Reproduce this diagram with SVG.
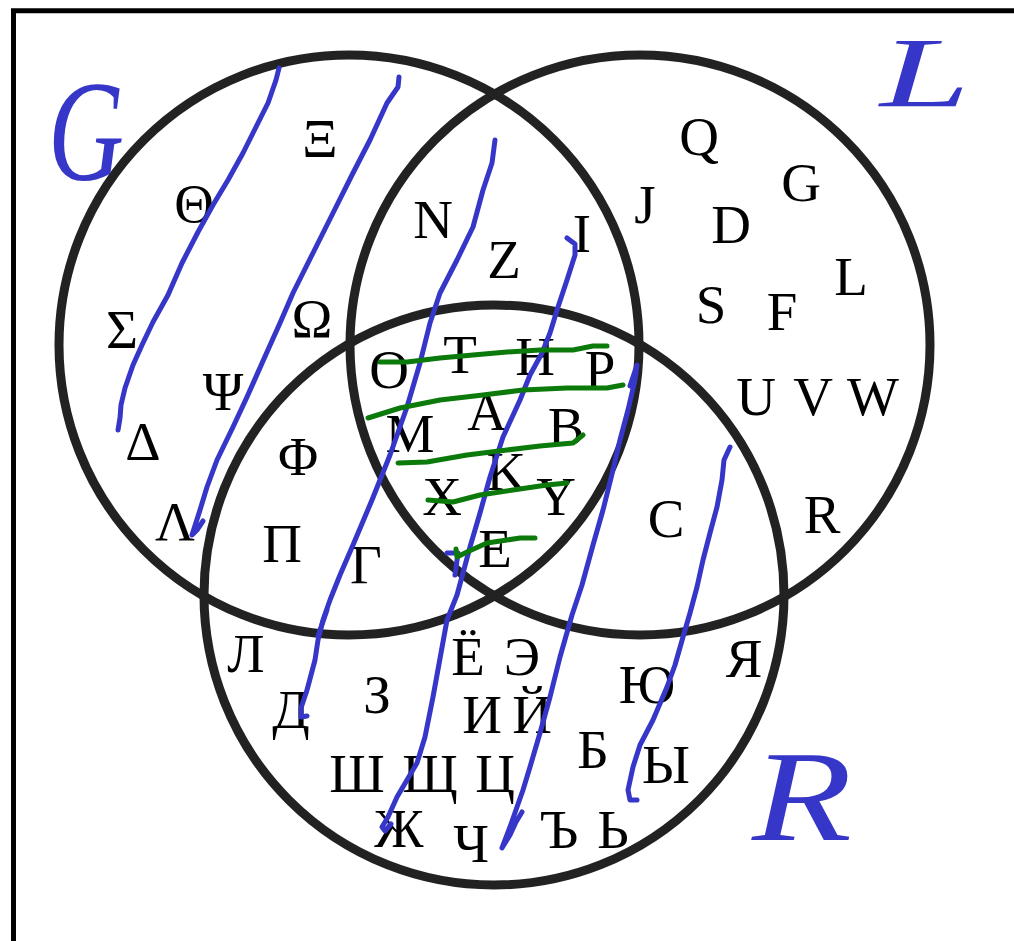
<svg xmlns="http://www.w3.org/2000/svg" width="1014" height="941" viewBox="0 0 1014 941">
<style>
.c{fill:none;stroke:#222;stroke-width:9}
.t{font-family:"Liberation Serif","Times New Roman",serif;font-size:55px;fill:#000;text-anchor:middle}
.b{fill:none;stroke:#3636c8;stroke-width:5;stroke-linecap:round;stroke-linejoin:round}
.g{fill:none;stroke:#0b7a0b;stroke-width:5;stroke-linecap:round;stroke-linejoin:round}
.lab{font-family:"Liberation Serif","Times New Roman",serif;font-style:italic;fill:#3636c8;text-anchor:middle}
</style>
<rect x="0" y="0" width="1014" height="941" fill="#fff"/>
<path d="M13.5,941 V10.7 H1014" fill="none" stroke="#000" stroke-width="5"/>
<g id="setG"><circle class="c" cx="349" cy="345" r="290"/></g>
<g id="setL"><circle class="c" cx="640" cy="345" r="290"/></g>
<g id="setR"><circle class="c" cx="494" cy="595" r="290"/></g>
<g id="labels">
<text class="lab" x="86" y="180" font-size="145" textLength="76" lengthAdjust="spacingAndGlyphs">G</text>
<text class="lab" x="925" y="106" font-size="100" textLength="90" lengthAdjust="spacingAndGlyphs">L</text>
<text class="lab" x="802" y="840" font-size="130" textLength="100" lengthAdjust="spacingAndGlyphs">R</text>
</g>
<g id="letters">
<text class="t" x="194" y="222">Θ</text>
<text class="t" x="320" y="157">Ξ</text>
<text class="t" x="122" y="348">Σ</text>
<text class="t" x="312" y="337">Ω</text>
<text class="t" x="223" y="410">Ψ</text>
<text class="t" x="143" y="460">Δ</text>
<text class="t" x="298" y="475">Φ</text>
<text class="t" x="175" y="540">Λ</text>
<text class="t" x="282" y="562">Π</text>
<text class="t" x="366" y="583">Γ</text>
<text class="t" x="433" y="238">N</text>
<text class="t" x="504" y="278">Z</text>
<text class="t" x="582" y="252">I</text>
<text class="t" x="645" y="223">J</text>
<text class="t" x="699" y="155">Q</text>
<text class="t" x="801" y="201">G</text>
<text class="t" x="731" y="243">D</text>
<text class="t" x="851" y="295">L</text>
<text class="t" x="711" y="323">S</text>
<text class="t" x="782" y="330">F</text>
<text class="t" x="756" y="415">U</text>
<text class="t" x="813" y="415">V</text>
<text class="t" x="873" y="415">W</text>
<text class="t" x="666" y="537">C</text>
<text class="t" x="822" y="533">R</text>
<text class="t" x="389" y="388">O</text>
<text class="t" x="460" y="373">T</text>
<text class="t" x="535" y="375">H</text>
<text class="t" x="600" y="388">P</text>
<text class="t" x="487" y="430">A</text>
<text class="t" x="410" y="452">M</text>
<text class="t" x="566" y="445">B</text>
<text class="t" x="506" y="490">K</text>
<text class="t" x="442" y="515">X</text>
<text class="t" x="556" y="515">Y</text>
<text class="t" x="495" y="567">E</text>
<text class="t" x="246" y="672">Л</text>
<text class="t" x="291" y="728">Д</text>
<text class="t" x="377" y="713">З</text>
<text class="t" x="468" y="675">Ё</text>
<text class="t" x="522" y="675">Э</text>
<text class="t" x="482" y="733">И</text>
<text class="t" x="532" y="733">Й</text>
<text class="t" x="647" y="703">Ю</text>
<text class="t" x="744" y="677">Я</text>
<text class="t" x="593" y="768">Б</text>
<text class="t" x="666" y="783">Ы</text>
<text class="t" x="357" y="792">Ш</text>
<text class="t" x="430" y="792">Щ</text>
<text class="t" x="495" y="792">Ц</text>
<text class="t" x="399" y="847">Ж</text>
<text class="t" x="471" y="862">Ч</text>
<text class="t" x="559" y="848">Ъ</text>
<text class="t" x="613" y="848">Ь</text>
</g>
<g id="strokes">
<path class="b" d="M279,68 L276,80 L268,103 L257,125 L243,153 L228,180 L213,205 L198,232 L182,263 L168,295 L153,322 L142,345 L133,365 L125,388 L121,405 L120,418 L118,430"/>
<path class="b" d="M399,77 L398,87 L387,103 L370,140 L353,173 L333,213 L313,253 L293,293 L280,323 L267,352 L247,397 L233,427 L217,460 L207,487 L200,510 L192,535 L197,530 L203,521"/>
<path class="b" d="M495,140 L492,163 L483,190 L473,227 L457,260 L440,293 L430,323 L420,363 L407,407 L390,455 L372,500 L353,545 L340,575 L330,600 L323,620 L318,640 L315,660 L307,690 L301,708 L301,717 L307,716"/>
<path class="b" d="M327,610 L318,636" stroke-width="10"/>
<path class="b" d="M567,238 L575,244 L575,255 L567,280 L558,307 L550,333 L542,353 L530,375 L520,400 L503,437 L490,477 L480,513 L470,547 L463,573 L457,595 L447,620 L441,653 L433,697 L425,737 L417,763 L407,780 L397,797 L388,817 L382,827 L385,831 L391,824"/>
<path class="b" d="M447,553 L458,553 L455,575"/>
<path class="b" d="M630,386 L637,365 L635,380 L628,410 L620,440 L613,470 L603,510 L593,545 L582,585 L572,615 L560,657 L550,697 L540,733 L530,767 L523,790 L517,807 L510,827 L502,848 L510,835 L516,822 L522,812"/>
<path class="b" d="M730,447 L724,460 L722,480 L717,507 L710,533 L703,560 L697,587 L690,613 L683,637 L675,665 L667,687 L653,720 L640,745 L633,767 L628,790 L630,800 L637,800"/>
<path class="g" d="M380,362 L407,362 L440,358 L473,355 L507,352 L540,350 L573,350 L593,346 L607,346"/>
<path class="g" d="M368,418 L400,408 L440,400 L483,395 L523,390 L567,388 L607,388 L623,385"/>
<path class="g" d="M398,463 L427,462 L467,455 L507,450 L540,446 L573,443 L583,435"/>
<path class="g" d="M428,500 L453,502 L480,495 L513,490 L547,485 L567,483"/>
<path class="g" d="M456,549 L457,557 L467,552 L487,543 L507,540 L520,538 L535,538"/>
</g>
</svg>
